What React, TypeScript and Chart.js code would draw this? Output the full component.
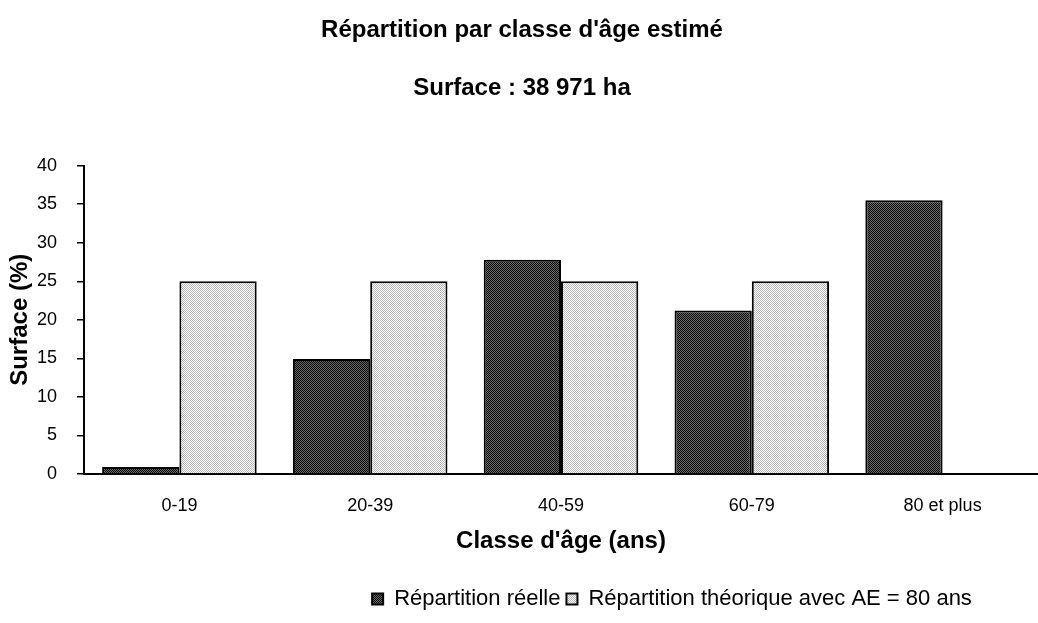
import React, { useEffect, useRef } from "react";
import { Chart, registerables } from "chart.js";

Chart.register(...registerables);

const categories = ["0-19", "20-39", "40-59", "60-79", "80 et plus"];
const reelle = [0.9, 14.9, 27.8, 21.2, 35.5];
const theorique = [25, 25, 25, 25, null];
const seriesNames = ["Répartition réelle", "Répartition théorique avec AE = 80 ans"];
const titleText = "Répartition par classe d'âge estimé";
const subtitleText = "Surface : 38 971 ha";
const xTitle = "Classe d'âge (ans)";
const yTitle = "Surface (%)";

function makePattern(a: string, b: string): CanvasPattern | string {
  const c = document.createElement("canvas");
  c.width = 2;
  c.height = 2;
  const ctx = c.getContext("2d");
  if (!ctx) return a;
  ctx.fillStyle = a;
  ctx.fillRect(0, 0, 2, 2);
  ctx.fillStyle = b;
  ctx.fillRect(0, 0, 1, 1);
  ctx.fillRect(1, 1, 1, 1);
  const p = ctx.createPattern(c, "repeat");
  return p || a;
}

const legendShift = {
  id: "legendShift",
  afterLayout(chart: any) {
    const lg = chart.legend;
    if (lg) {
      lg.left += 150;
      lg.right += 150;
    }
  },
};

export default function App() {
  const ref = useRef<HTMLCanvasElement | null>(null);
  useEffect(() => {
    document.body.style.margin = "0";
    const canvas = ref.current;
    if (!canvas) return;
    const dark = makePattern("#6a6a6a", "#0a0a0a");
    const light = makePattern("#ffffff", "#b8b8b8");
    const family = "'Liberation Sans', Arial, sans-serif";
    const bold = { family, size: 24, weight: "bold" as const };
    const reg = { family, size: 18 };
    const chart = new Chart(canvas, {
      type: "bar",
      data: {
        labels: categories,
        datasets: [
          {
            label: seriesNames[0],
            data: reelle,
            backgroundColor: dark as any,
            borderColor: "#000",
            borderWidth: 2,
            categoryPercentage: 0.81,
            barPercentage: 1,
          },
          {
            label: seriesNames[1],
            data: theorique,
            backgroundColor: light as any,
            borderColor: "#000",
            borderWidth: 2,
            categoryPercentage: 0.81,
            barPercentage: 1,
          },
        ],
      },
      options: {
        responsive: false,
        animation: false,
        devicePixelRatio: 1,
        layout: { padding: { left: 6, right: 0, top: 0, bottom: 3 } },
        plugins: {
          title: {
            display: true,
            text: titleText,
            color: "#000",
            font: bold,
            padding: { top: 16, bottom: 0 },
          },
          subtitle: {
            display: true,
            text: subtitleText,
            color: "#000",
            font: bold,
            padding: { top: 29, bottom: 63 },
          },
          legend: {
            position: "bottom",
            labels: {
              color: "#000",
              font: { family, size: 22 },
              boxWidth: 11,
              boxHeight: 11,
              padding: 6,
            },
          },
          tooltip: { enabled: false },
        },
        scales: {
          x: {
            grid: { display: false, drawTicks: false },
            border: { display: true, color: "#000", width: 2 },
            ticks: { color: "#000", font: reg, padding: 21, maxRotation: 0 },
            title: { display: true, text: xTitle, color: "#000", font: bold, padding: { top: 4, bottom: 26 } },
            afterFit: (s: any) => {
              s.height = 108;
            },
          },
          y: {
            min: 0,
            max: 40,
            grid: { display: true, drawOnChartArea: false, drawTicks: true, tickLength: 7, color: "#000", lineWidth: 1.5 },
            border: { display: true, color: "#000", width: 2 },
            ticks: { color: "#000", font: reg, stepSize: 5, padding: 20 },
            title: { display: true, text: yTitle, color: "#000", font: bold, padding: { top: 0, bottom: 0 } },
            afterFit: (s: any) => {
              s.width = 78;
            },
          },
        },
      },
      plugins: [legendShift],
    });
    return () => chart.destroy();
  }, []);
  return (
    <div style={{ width: 1038, height: 623 }}>
      <canvas ref={ref} width={1038} height={623} />
    </div>
  );
}
